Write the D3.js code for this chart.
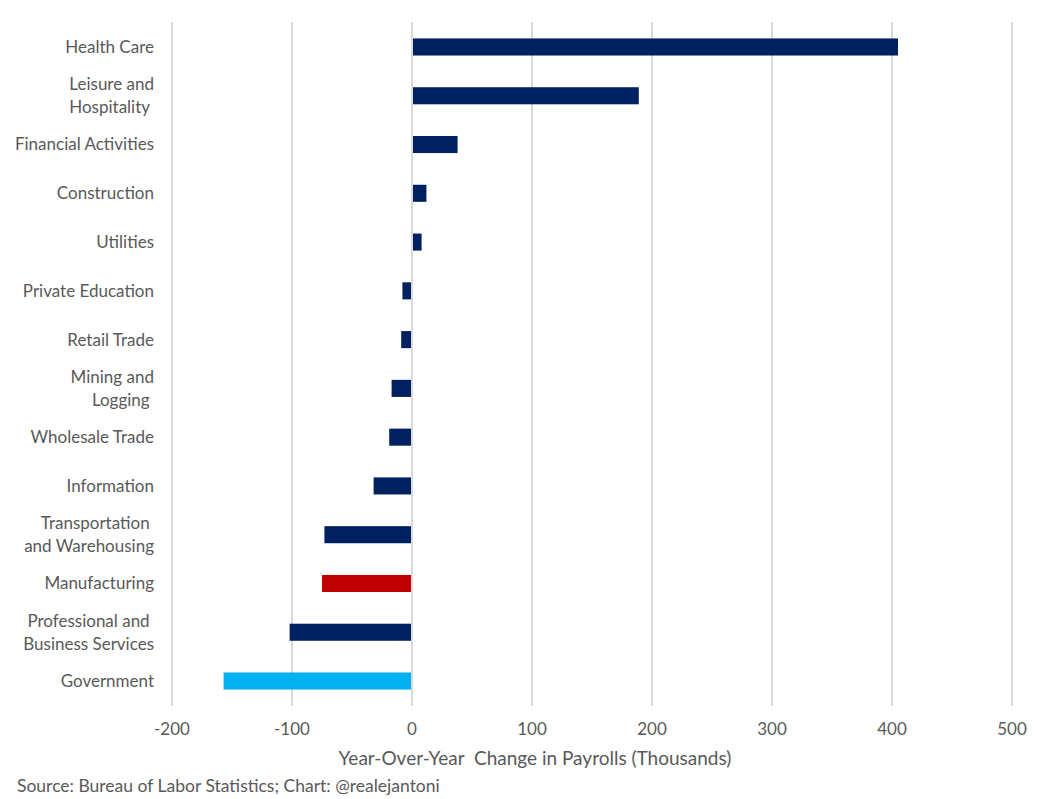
<!DOCTYPE html>
<html>
<head>
<meta charset="utf-8">
<script src="https://cdn.jsdelivr.net/npm/d3@7"></script>
<style>
  body { margin: 0; background: #fff; }
  text { font-family: Lato, "Open Sans", sans-serif; fill: #595959; }
</style>
</head>
<body>
<div id="chart"></div>
<script>
// данные с картинки
const sectors = [
  ["Health Care"],
  ["Leisure and", "Hospitality "],
  ["Financial Activities"],
  ["Construction"],
  ["Utilities"],
  ["Private Education"],
  ["Retail Trade"],
  ["Mining and", "Logging "],
  ["Wholesale Trade"],
  ["Information"],
  ["Transportation ", "and Warehousing"],
  ["Manufacturing"],
  ["Professional and ", "Business Services"],
  ["Government"]
];
const changes = [405, 189, 38, 12, 8, -8, -9, -17, -19, -32, -73, -75, -102, -157];
const barColors = ["#002060", "#002060", "#002060", "#002060", "#002060", "#002060", "#002060",
                   "#002060", "#002060", "#002060", "#002060", "#C00000", "#002060", "#00B0F0"];
const xTicks = [-200, -100, 0, 100, 200, 300, 400, 500];

const width = 1050, height = 799;

const svg = d3.select("#chart").append("svg")
    .attr("width", width)
    .attr("height", height);

const x = d3.scaleLinear().domain([-200, 500]).range([172, 1012]);
const y = d3.scaleBand()
    .domain(d3.range(sectors.length))
    .range([22.6, 705.4])
    .paddingInner(0.65)
    .paddingOuter(0.325);

// сетка
svg.append("g")
    .selectAll("line")
    .data(xTicks)
    .join("line")
    .attr("x1", d => x(d)).attr("x2", d => x(d))
    .attr("y1", 22).attr("y2", 706)
    .attr("stroke", "#D9D9D9")
    .attr("stroke-width", 2);

// бары
svg.append("g")
    .selectAll("rect")
    .data(changes)
    .join("rect")
    .attr("x", d => d >= 0 ? x(0) + 1 : x(d))
    .attr("width", d => Math.abs(x(d) - x(0)) - 1)
    .attr("y", (d, i) => y(i))
    .attr("height", y.bandwidth())
    .attr("fill", (d, i) => barColors[i]);

// подписи категорий
const fs = 17;
const lbl = svg.append("g")
    .selectAll("text")
    .data(sectors)
    .join("text")
    .attr("text-anchor", "end")
    .attr("font-size", fs)
    .attr("x", 154)
    .attr("y", (d, i) => y(i) + y.bandwidth() / 2);

lbl.selectAll("tspan")
    .data(d => d.map((t, k) => ({ t, k, n: d.length })))
    .join("tspan")
    .attr("x", 154)
    .attr("dy", d => d.k === 0 ? (d.n === 1 ? "0.35em" : (0.35 * fs - 11.5) + "px") : "23px")
    .style("white-space", "pre")
    .text(d => d.t);

// ось X
svg.append("g")
    .selectAll("text")
    .data(xTicks)
    .join("text")
    .attr("x", d => x(d))
    .attr("y", 735)
    .attr("text-anchor", "middle")
    .attr("font-size", 17)
    .text(d => d);

svg.append("text")
    .attr("x", 535)
    .attr("y", 765)
    .attr("text-anchor", "middle")
    .attr("font-size", 19)
    .style("white-space", "pre")
    .text("Year-Over-Year  Change in Payrolls (Thousands)");

svg.append("text")
    .attr("x", 17)
    .attr("y", 792)
    .attr("font-size", 17.5)
    .text("Source: Bureau of Labor Statistics; Chart: @realejantoni");
</script>
</body>
</html>
